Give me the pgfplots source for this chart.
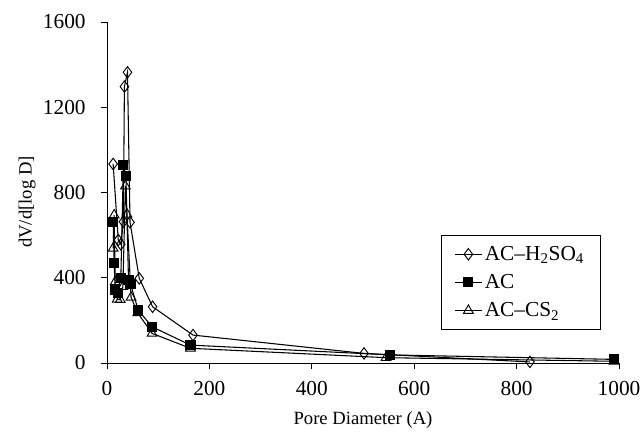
\documentclass[border=0pt]{standalone}
\usepackage{fontspec}
\setmainfont{Liberation Serif}
\usepackage{pgfplots}
\pgfplotsset{compat=1.18}

\begin{document}
\begin{tikzpicture}
\useasboundingbox (-80.25pt,-56.25pt) rectangle (401.25pt,272.25pt);
\begin{axis}[
  scale only axis, width=384pt, height=255.75pt,
  xmin=0, xmax=1000, ymin=0, ymax=1600,
  axis lines=left, axis line style={-, line width=0.7pt},
  tick align=outside, major tick length=4.5pt,
  tick style={black, line width=0.7pt},
  xtick={0,200,...,1000}, ytick={0,400,...,1600},
  /pgf/number format/assume math mode=true,
  /pgf/number format/1000 sep={},
  xticklabel={\mbox{\fontsize{16}{19}\selectfont\pgfmathprintnumber[assume math mode=true]{\tick}}},
  yticklabel={\mbox{\fontsize{16}{19}\selectfont\pgfmathprintnumber[assume math mode=true]{\tick}}},
  xticklabel style={yshift=-6pt},
  yticklabel style={xshift=-8pt},
  label style={font=\fontsize{14}{17}\selectfont},
  xlabel={Pore Diameter (A)}, ylabel={dV/d[log D]},
  xlabel style={at={(axis description cs:0.5,0)}, anchor=center, yshift=-42.75pt},
  ylabel style={at={(axis description cs:-0.156,0.472)}, anchor=center},
  legend style={at={(0.652,0.375)}, anchor=north west, draw=black,
    line width=0.6pt, inner xsep=10pt, inner ysep=6pt,
    row sep=5pt, font=\fontsize{16}{19}\selectfont},
  legend image code/.code={
    \draw[mark repeat=2, mark phase=2] plot coordinates {(0cm,0cm) (0.35cm,0cm) (0.7cm,0cm)};},
  legend cell align=left,
  every axis plot/.append style={black, line width=0.8pt},
]
\addplot[mark=diamond, mark size=4.3pt, mark options={fill=white, line width=0.7pt}] coordinates {
(12,934)(22,577)(27,557)(32,663)(34,1297)(40,1364)(45,660)(63,397)(89,264)(168,131)(502,45)(826,5)};
\addplot[mark=square*, mark size=3.4pt, mark options={fill=black}] coordinates {
(12,662)(14,470)(16,342)(21,330)(27,397)(32,928)(37,877)(42,389)(46,370)(61,248)(88,170)(163,84)(553,38)(990,17)};
\addplot[mark=triangle, mark size=4.2pt, mark options={fill=white, line width=0.7pt}] coordinates {
(12,538)(14,694)(16,381)(20,299)(26,297)(31,358)(36,830)(39,698)(47,308)(60,235)(88,139)(163,69)(545,25)(990,8)};
\legend{AC--H\textsubscript{2}SO\textsubscript{4}, AC, AC--CS\textsubscript{2}}
\end{axis}
\end{tikzpicture}
\end{document}
